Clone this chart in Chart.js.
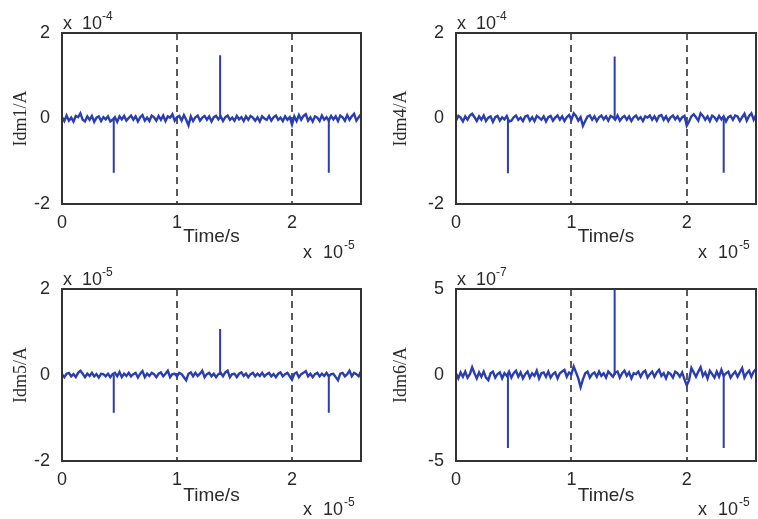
<!DOCTYPE html>
<html lang="en">
<head>
<meta charset="UTF-8">
<title>Idm currents</title>
<script src="https://cdn.jsdelivr.net/npm/chart.js"></script>
<style>
  html, body { margin: 0; padding: 0; background: #fff; overflow: hidden; width: 758px; height: 519px; }
  canvas { position: absolute; }
</style>
</head>
<body>
<canvas id="c1" width="380" height="260" style="left:0;top:0"></canvas>
<canvas id="c4" width="380" height="260" style="left:380px;top:0"></canvas>
<canvas id="c5" width="380" height="259" style="left:0;top:260px"></canvas>
<canvas id="c6" width="380" height="259" style="left:380px;top:260px"></canvas>
<script>
// time samples, unit 1e-5 s
const timeAxis = [
  0,0.02,0.04,0.06,0.08,0.1,0.12,0.14,0.16,0.18,
  0.2,0.22,0.24,0.26,0.28,0.3,0.32,0.34,0.36,0.38,
  0.4,0.42,0.44,0.46,0.48,0.5,0.52,0.54,0.56,0.58,
  0.6,0.62,0.64,0.66,0.68,0.7,0.72,0.74,0.76,0.78,
  0.8,0.82,0.84,0.86,0.88,0.9,0.92,0.94,0.96,0.98,
  1,1.02,1.04,1.06,1.08,1.1,1.12,1.14,1.16,1.18,
  1.2,1.22,1.24,1.26,1.28,1.3,1.32,1.34,1.36,1.38,
  1.4,1.42,1.44,1.46,1.48,1.5,1.52,1.54,1.56,1.58,
  1.6,1.62,1.64,1.66,1.68,1.7,1.72,1.74,1.76,1.78,
  1.8,1.82,1.84,1.86,1.88,1.9,1.92,1.94,1.96,1.98,
  2,2.02,2.04,2.06,2.08,2.1,2.12,2.14,2.16,2.18,
  2.2,2.22,2.24,2.26,2.28,2.3,2.32,2.34,2.36,2.38,
  2.4,2.42,2.44,2.46,2.48,2.5,2.52,2.54,2.56,2.58,
  2.6
];

// background current (panel units)
const idm1Noise = [
  0.03,-0.06,0.07,-0.05,0.02,-0.07,0.06,0.03,0.12,-0.03,
  -0.07,0.05,-0.03,0.06,-0.08,0.02,0.05,-0.06,0.03,-0.02,
  0.05,-0.07,-0.03,0.03,-0.08,0.05,-0.02,0.06,-0.05,0.01,
  0.07,-0.03,0.05,-0.07,0.03,0.08,-0.05,0.02,-0.06,0.07,
  0.03,-0.05,0.06,-0.03,0.07,-0.06,0.05,0.02,0.10,-0.05,
  0.03,0.06,-0.05,0.08,-0.03,-0.16,0.05,-0.06,0.03,0.07,
  -0.05,0.02,0.06,-0.03,0.05,-0.07,0.03,0.06,-0.02,0.05,
  -0.06,0.03,0.07,-0.03,0.02,-0.05,0.06,-0.02,0.03,-0.06,
  0.05,-0.03,0.06,0.02,-0.05,0.03,-0.07,0.05,0.00,-0.03,
  0.06,-0.05,0.03,0.07,-0.03,0.02,-0.06,0.05,-0.03,0.03,
  -0.14,0.05,-0.06,0.08,-0.03,0.06,0.10,-0.05,0.03,-0.07,
  0.05,0.02,-0.06,0.07,-0.03,0.03,-0.05,0.06,-0.02,0.05,
  -0.06,0.07,0.03,-0.05,0.08,-0.03,0.05,0.11,-0.05,0.03,
  0.10
];
const idm4Noise = [
  -0.05,0.06,0.02,-0.07,0.05,-0.03,0.07,0.11,0.03,-0.06,
  0.05,-0.03,0.07,-0.06,0.02,0.05,-0.08,0.03,0.06,-0.05,
  0.03,-0.02,0.06,-0.07,-0.05,0.03,0.07,-0.03,0.02,-0.06,
  0.05,0.07,-0.05,0.03,-0.06,0.06,0.02,-0.03,0.05,-0.07,
  0.03,0.06,-0.05,0.02,0.07,-0.03,0.05,-0.06,0.03,0.08,
  -0.03,0.12,0.06,-0.05,0.03,-0.17,-0.06,0.05,0.07,-0.03,
  0.05,-0.06,0.03,0.07,-0.02,0.05,-0.05,0.06,0.03,-0.03,
  0.07,-0.05,0.02,0.06,-0.03,0.05,-0.06,0.03,0.07,-0.02,
  0.03,-0.06,0.05,0.02,0.07,-0.03,0.05,-0.05,0.06,0.08,
  -0.03,0.05,-0.06,0.03,0.07,-0.02,0.05,-0.05,0.03,0.06,
  -0.17,-0.07,0.05,0.10,0.03,-0.05,0.12,0.06,-0.03,0.05,
  -0.06,0.07,0.03,-0.05,0.06,-0.02,0.05,-0.07,0.03,0.06,
  -0.03,0.07,0.05,-0.06,0.03,0.11,-0.05,0.06,0.12,-0.03,
  0.08
];
const idm5Noise = [
  0.02,-0.05,0.03,0.05,-0.03,0.02,-0.05,0.05,0.10,0.03,
  -0.05,0.03,-0.02,0.05,-0.03,0.02,-0.06,0.03,0.02,-0.03,
  0.03,-0.05,0.02,0.05,-0.03,0.07,-0.05,0.03,-0.02,0.05,
  -0.03,0.02,0.05,-0.06,0.03,0.09,-0.05,0.03,-0.02,0.05,
  0.02,-0.05,0.03,0.06,-0.03,0.03,0.10,-0.05,0.02,0.03,
  -0.03,0.05,0.02,-0.05,-0.12,0.03,0.06,-0.03,0.05,-0.02,
  0.03,0.10,-0.05,0.02,0.05,-0.03,0.03,-0.05,0.02,0.05,
  -0.03,0.06,0.10,-0.05,0.02,0.03,-0.05,0.03,0.06,-0.02,
  0.03,-0.05,0.02,0.05,-0.03,0.03,-0.02,0.05,-0.03,0.02,
  0.05,-0.03,0.02,-0.05,0.03,0.06,-0.03,0.02,0.05,-0.03,
  -0.11,0.03,0.06,-0.05,0.02,0.05,0.09,-0.03,0.03,-0.05,
  0.02,0.05,-0.03,0.03,-0.02,0.05,-0.03,0.02,0.03,-0.05,
  -0.12,0.03,0.05,-0.03,0.02,0.10,-0.03,0.05,0.02,-0.03,
  0.09
];
const idm6Noise = [
  0.10,-0.20,0.15,-0.10,0.20,-0.15,0.05,0.45,0.10,-0.20,
  0.15,-0.10,0.20,-0.15,-0.30,0.10,0.20,-0.15,0.05,0.15,
  -0.20,0.10,-0.05,0.20,-0.15,0.10,0.25,-0.10,0.15,-0.20,
  0.05,0.20,-0.15,0.10,-0.05,0.25,-0.20,0.10,0.15,-0.10,
  0.20,-0.15,0.05,0.15,-0.20,0.10,0.20,0.30,-0.10,0.15,
  0.05,0.50,0.15,-0.20,-0.70,-0.25,0.10,0.20,-0.15,0.05,
  0.15,-0.10,0.20,-0.05,0.10,-0.15,0.20,0.05,-0.10,0.15,
  0.20,-0.15,0.10,0.25,-0.05,0.15,-0.20,0.10,0.05,0.20,
  -0.10,0.15,0.25,-0.15,0.05,0.20,-0.10,0.15,0.30,-0.05,
  0.10,-0.20,0.15,0.05,-0.15,0.20,0.10,-0.10,0.15,-0.25,
  -0.60,-0.30,0.40,0.15,-0.10,0.20,0.45,-0.05,0.15,-0.20,
  0.25,0.05,-0.15,0.20,-0.10,0.30,-0.05,0.10,0.20,-0.15,
  0.05,0.20,-0.10,0.15,0.40,-0.15,0.10,0.25,-0.10,0.20,
  0.35
];

// fault pulses
const spikeTimes = [0.45, 1.375, 2.32];
const idm1Spikes = [-1.27, 1.48, -1.27];
const idm4Spikes = [-1.28, 1.45, -1.27];
const idm5Spikes = [-0.88, 1.07, -0.88];
const idm6Spikes = [-4.24, 5.3, -4.24];

const xTicks = [0, 1, 2];
const xMax = 2.6;
const yTicks12 = [-2, 0, 2];
const yTicks7 = [-5, 0, 5];
const yTitles = ['Idm1/A', 'Idm4/A', 'Idm5/A', 'Idm6/A'];
const yExps = ['-4', '-4', '-5', '-7'];
const xTitle = 'Time/s';
const xExp = '-5';

const LINE = '#2a3db2';
const INK = '#2a2a2a';
const SANS = '"Liberation Sans", Arial, sans-serif';

Chart.defaults.font.family = SANS;
Chart.defaults.color = INK;

// box, and the "x 10^n" multipliers matlab puts on the axes
const framePlugin = {
  id: 'frame',
  afterDatasetsDraw(chart, args, opts) {
    const {ctx, chartArea: a} = chart;
    ctx.save();
    ctx.strokeStyle = '#333';
    ctx.lineWidth = 2;
    ctx.strokeRect(a.left, a.top, a.right - a.left, a.bottom - a.top);

    ctx.fillStyle = INK;
    ctx.textBaseline = 'alphabetic';
    ctx.textAlign = 'left';
    // top left multiplier
    ctx.font = '18px ' + SANS;
    ctx.fillText('x', a.left + 1, a.top - 4);
    ctx.fillText('10', a.left + 20, a.top - 4);
    ctx.font = '12px ' + SANS;
    ctx.fillText(opts.yExp, a.left + 40, a.top - 13);
    // bottom right multiplier
    ctx.font = '18px ' + SANS;
    ctx.fillText('x', a.right - 58, a.bottom + 54);
    ctx.fillText('10', a.right - 38, a.bottom + 54);
    ctx.font = '12px ' + SANS;
    ctx.fillText(xExp, a.right - 17, a.bottom + 45);
    ctx.restore();
  }
};

function makePanel(id, noise, spikes, yLim, yTickVals, yTitle, yExp, box) {
  const noisePts = timeAxis.map((t, i) => ({x: t, y: noise[i]}));
  const spikePts = [];
  spikeTimes.forEach((t, i) => {
    spikePts.push({x: t, y: 0}, {x: t, y: spikes[i]}, {x: t, y: null});
  });

  return new Chart(document.getElementById(id), {
    type: 'line',
    data: {
      datasets: [
        {data: noisePts, borderColor: LINE, borderWidth: 2.4, pointRadius: 0, tension: 0},
        {data: spikePts, borderColor: LINE, borderWidth: 2, pointRadius: 0, spanGaps: false}
      ]
    },
    options: {
      responsive: false,
      animation: false,
      events: [],
      layout: {padding: {left: 0, top: box.top, right: box.right, bottom: 0}},
      plugins: {legend: {display: false}, tooltip: {enabled: false}, frame: {yExp: yExp}},
      scales: {
        x: {
          type: 'linear',
          min: 0,
          max: xMax,
          afterBuildTicks: s => { s.ticks = xTicks.map(v => ({value: v})); },
          afterFit: s => { s.height = box.xH; },
          grid: {color: '#5a5a5a', lineWidth: 2, drawTicks: false},
          border: {display: false, dash: [7, 5]},
          ticks: {font: {size: 18}, padding: 8, maxRotation: 0, color: INK},
          title: {display: true, text: xTitle, font: {size: 19}, color: INK, padding: {top: 0, bottom: 12}}
        },
        y: {
          min: yLim[0],
          max: yLim[1],
          afterBuildTicks: s => { s.ticks = yTickVals.map(v => ({value: v})); },
          afterFit: s => { s.width = box.yW; },
          grid: {display: false},
          border: {display: false},
          ticks: {font: {size: 18}, padding: 4, color: INK},
          title: {display: true, text: yTitle, font: {size: 18, family: '"Liberation Serif", "Times New Roman", serif'},
                  color: INK, padding: {top: 10, bottom: 0}}
        }
      }
    },
    plugins: [framePlugin]
  });
}

makePanel('c1', idm1Noise, idm1Spikes, [-2, 2], yTicks12, yTitles[0], yExps[0], {top: 33, right: 19, xH: 56, yW: 62});
makePanel('c4', idm4Noise, idm4Spikes, [-2, 2], yTicks12, yTitles[1], yExps[1], {top: 33, right: 4, xH: 56, yW: 76});
makePanel('c5', idm5Noise, idm5Spikes, [-2, 2], yTicks12, yTitles[2], yExps[2], {top: 29, right: 19, xH: 58, yW: 62});
makePanel('c6', idm6Noise, idm6Spikes, [-5, 5], yTicks7, yTitles[3], yExps[3], {top: 29, right: 4, xH: 58, yW: 76});
</script>
</body>
</html>
